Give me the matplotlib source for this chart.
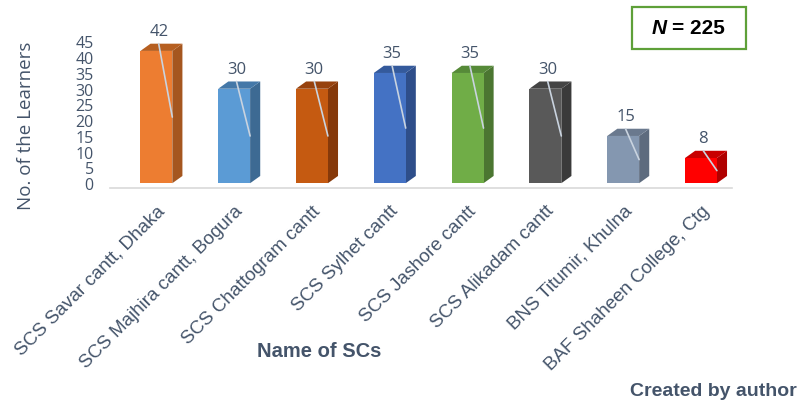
import matplotlib.pyplot as plt
from matplotlib.patches import Polygon, Rectangle

# data
schools = [
    "SCS Savar cantt, Dhaka",
    "SCS Majhira cantt, Bogura",
    "SCS Chattogram cantt",
    "SCS Sylhet cantt",
    "SCS Jashore cantt",
    "SCS Alikadam cantt",
    "BNS Titumir, Khulna",
    "BAF Shaheen College, Ctg",
]
learners = [42, 30, 30, 35, 35, 30, 15, 8]
front_colors = ["#ED7D31", "#5B9BD5", "#C55A11", "#4472C4", "#70AD47", "#595959", "#8497B0", "#FF0000"]
side_colors = ["#A5561F", "#3D6A93", "#86390A", "#2E4E8A", "#4B7631", "#3A3A3A", "#5D6B7E", "#B00000"]
top_colors = ["#B65F21", "#4478A8", "#97420E", "#345A9C", "#568A38", "#444444", "#6A798E", "#C80000"]
yticks = list(range(0, 50, 5))

TXT = "#44546A"
W = 0.41     # front face width
DX = 0.13    # depth offset (x)
DY = 2.3     # depth offset (y)

fig = plt.figure(figsize=(7.99, 4.02), dpi=100)
ax = fig.add_axes([0.147, 0.53, 0.779, 0.38])

for i, (v, fc, sc, tc) in enumerate(zip(learners, front_colors, side_colors, top_colors)):
    x0, x1 = i - W / 2, i + W / 2
    ax.add_patch(Polygon([(x1, 0), (x1 + DX, DY), (x1 + DX, v + DY), (x1, v)],
                         closed=True, facecolor=sc, edgecolor="none", zorder=2))
    ax.add_patch(Polygon([(x0, v), (x1, v), (x1 + DX, v + DY), (x0 + DX, v + DY)],
                         closed=True, facecolor=tc, edgecolor="none", zorder=2))
    ax.add_patch(Rectangle((x0, 0), W, v, facecolor=fc, edgecolor="none", zorder=3))
    # data label with leader line
    ax.plot([i + 0.03, x1], [v + DY, v / 2], color="#C9D3DF", lw=1.2, zorder=4,
            solid_capstyle="round")
    ax.text(i + 0.03, v + 6.3, str(v), ha="center", va="center", fontsize=12,
            color=TXT, family="Open Sans", clip_on=False, zorder=5)

ax.set_xlim(-0.5, len(schools) - 0.5)
ax.set_ylim(-1.5, 47)
ax.set_yticks(yticks)
ax.set_yticklabels([str(t) for t in yticks], family="Open Sans", fontsize=11.5, color=TXT)
ax.set_xticks(range(len(schools)))
ax.set_xticklabels(schools, rotation=45, ha="right", va="top", rotation_mode="anchor",
                   family="Liberation Sans", fontsize=13.5, color=TXT)
ax.tick_params(axis="y", length=0, pad=17)
ax.tick_params(axis="x", length=0, pad=10)
for s in ax.spines.values():
    s.set_visible(False)
# floor line, slightly left of the first bar slot
ax.plot([-0.012, 0.988], [-1.5, -1.5], transform=ax.get_yaxis_transform(),
        color="#D9D9D9", lw=1.2, clip_on=False, zorder=1)
ax.plot([0, 0], [0, 0])

fig.text(0.033, 0.687, "No. of the Learners", rotation=90, ha="center", va="center",
         family="Open Sans", fontsize=13.5, color=TXT)
fig.text(0.40, 0.125, "Name of SCs", ha="center", va="center", family="Liberation Sans",
         fontsize=14.5, fontweight="bold", color=TXT)
fig.text(0.997, 0.025, "Created by author", ha="right", va="center", family="Liberation Sans",
         fontsize=14, fontweight="bold", color=TXT)

# N box
fig.patches.append(Rectangle((632 / 799, 1 - 50 / 402), 114 / 799, 42 / 402,
                             transform=fig.transFigure, facecolor="white",
                             edgecolor="#5EA038", lw=1.6))
fig.text(667 / 799, 1 - 29 / 402, "N", ha="right", va="center", family="Liberation Sans",
         fontsize=15, fontweight="bold", fontstyle="italic", color="black")
fig.text(672 / 799, 1 - 29 / 402, "= 225", ha="left", va="center", family="Liberation Sans",
         fontsize=15, fontweight="bold", color="black")

fig.savefig("out.png", dpi=100)
